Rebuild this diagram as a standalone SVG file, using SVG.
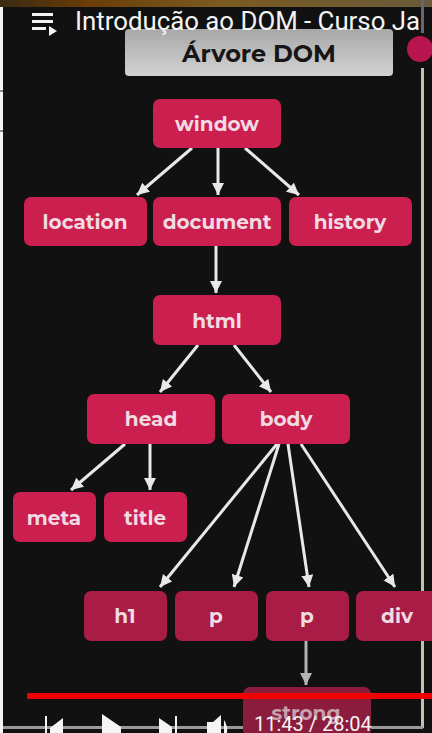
<svg xmlns="http://www.w3.org/2000/svg" width="432" height="733" viewBox="0 0 432 733">
<defs>
<linearGradient id="titleGrad" x1="0" y1="0" x2="0" y2="1"><stop offset="0" stop-color="#a8a8a8"/><stop offset="1" stop-color="#d2d2d2"/></linearGradient>
<linearGradient id="topGrad" x1="0" y1="0" x2="1" y2="0"><stop offset="0" stop-color="#3a2a12"/><stop offset="0.2" stop-color="#6a3c08"/><stop offset="0.5" stop-color="#7a5a20"/><stop offset="1" stop-color="#6a5a3a"/></linearGradient>
<marker id="ah" markerUnits="userSpaceOnUse" markerWidth="14" markerHeight="14" refX="12" refY="6" orient="auto"><path d="M0 0L12 6L0 12Z" fill="#e8e8e8"/></marker>
<marker id="ahd" markerUnits="userSpaceOnUse" markerWidth="14" markerHeight="14" refX="12" refY="6" orient="auto"><path d="M0 0L12 6L0 12Z" fill="#b4b4b4"/></marker>
</defs>
<style>
.n{fill:#cb1f4f}
.n2{fill:#a81c45}
.n3{fill:#8c1c3d}
.l{font-family:"Montserrat","Lato","DejaVu Sans",sans-serif;font-weight:700;font-size:20px;fill:#f0dbe2;text-anchor:middle}
.c{stroke:#e8e8e8;stroke-width:3;fill:none;marker-end:url(#ah)}
.cd{stroke:#b4b4b4;stroke-width:3;fill:none;marker-end:url(#ahd)}
.ui{font-family:"Roboto","Liberation Sans",sans-serif;fill:#f4f4f4}
</style>
<rect width="432" height="733" fill="#111112"/>
<rect x="0" y="0" width="3" height="733" fill="#f4f4f4"/>
<rect x="0" y="0" width="432" height="7" fill="url(#topGrad)"/>
<path d="M0 91H3M0 131H3" stroke="#222"/>
<rect x="421" y="68" width="3" height="660" fill="#b8c8b0"/>
<rect x="421" y="0" width="3" height="33" fill="#667"/>
<rect x="3" y="726" width="420" height="3" fill="#9a9a9a"/>
<circle cx="420" cy="49" r="13" fill="#b8154f"/>

<g id="title"><rect x="125" y="29" width="268" height="47" rx="4" fill="url(#titleGrad)"/>
<text x="259" y="62" font-family="Montserrat,Lato,'DejaVu Sans',sans-serif" font-weight="700" font-size="24" fill="#161616" text-anchor="middle">Árvore DOM</text></g>

<g id="connectors">
<path class="c" d="M192 148L137 195"/>
<path class="c" d="M218 148V195"/>
<path class="c" d="M245 148L299 195"/>
<path class="c" d="M216 246V293"/>
<path class="c" d="M198 345L160 392"/>
<path class="c" d="M234 345L271 392"/>
<path class="c" d="M125 444L71 490"/>
<path class="c" d="M150 444V490"/>
<path class="c" d="M277 444L160 587"/>
<path class="c" d="M279 444L234 587"/>
<path class="c" d="M288 444L309 587"/>
<path class="c" d="M301 444L395 587"/>
<path class="cd" d="M306 641V685"/>
</g>

<g id="window"><rect class="n" x="153" y="99" width="128" height="49" rx="7"/><text class="l" x="217" y="131">window</text></g>
<g id="location"><rect class="n" x="24" y="197" width="123" height="49" rx="7"/><text class="l" x="85" y="229">location</text></g>
<g id="document"><rect class="n" x="153" y="197" width="128" height="49" rx="7"/><text class="l" x="217" y="229">document</text></g>
<g id="history"><rect class="n" x="289" y="197" width="123" height="49" rx="7"/><text class="l" x="350" y="229">history</text></g>
<g id="html"><rect class="n" x="153" y="295" width="128" height="50" rx="7"/><text class="l" x="217" y="328">html</text></g>
<g id="head"><rect class="n" x="87" y="394" width="128" height="50" rx="7"/><text class="l" x="151" y="426">head</text></g>
<g id="body"><rect class="n" x="222" y="394" width="128" height="50" rx="7"/><text class="l" x="286" y="426">body</text></g>
<g id="meta"><rect class="n" x="13" y="492" width="83" height="50" rx="7"/><text class="l" x="54" y="525">meta</text></g>
<g id="title-node"><rect class="n" x="104" y="492" width="83" height="50" rx="7"/><text class="l" x="145" y="525">title</text></g>
<g id="h1"><rect class="n2" x="84" y="591" width="83" height="50" rx="7"/><text class="l" x="125" y="623">h1</text></g>
<g id="p1"><rect class="n2" x="175" y="591" width="83" height="50" rx="7"/><text class="l" x="216" y="623">p</text></g>
<g id="p2"><rect class="n2" x="266" y="591" width="83" height="50" rx="7"/><text class="l" x="307" y="623">p</text></g>
<g id="div"><rect class="n2" x="356" y="591" width="83" height="50" rx="7"/><text class="l" x="397" y="623">div</text></g>
<g id="strong"><rect class="n3" x="243" y="687" width="128" height="50" rx="7"/><text class="l" x="306" y="720" style="fill:#c8a0ac">strong</text></g>

<g id="player">
<rect x="27" y="693" width="405" height="6" fill="#f00000"/>
<path d="M45 716h2v17h-2zM63 718v15H50v-5z" fill="#f4f4f4"/>
<path d="M102 714L121 727V733H102Z" fill="#f4f4f4"/>
<path d="M159 718L172 727V733H159ZM175 716h2v17h-2z" fill="#f4f4f4"/>
<path d="M207 722h6l8-7v18h-14zM224 720q4 6 3 13h-3z" fill="#f4f4f4"/>
<text class="ui" x="254" y="731" font-size="20">11:43 / 28:04</text>
</g>
<g id="header">
<text class="ui" x="75" y="30" font-size="25.8">Introdução ao DOM - Curso Ja</text>
<path d="M32 13h21v3H32zM32 20h21v3H32zM32 27h14v3H32z" fill="#f4f4f4"/>
<path d="M49 26l8 5l-8 5z" fill="#f4f4f4"/>
</g>
</svg>
